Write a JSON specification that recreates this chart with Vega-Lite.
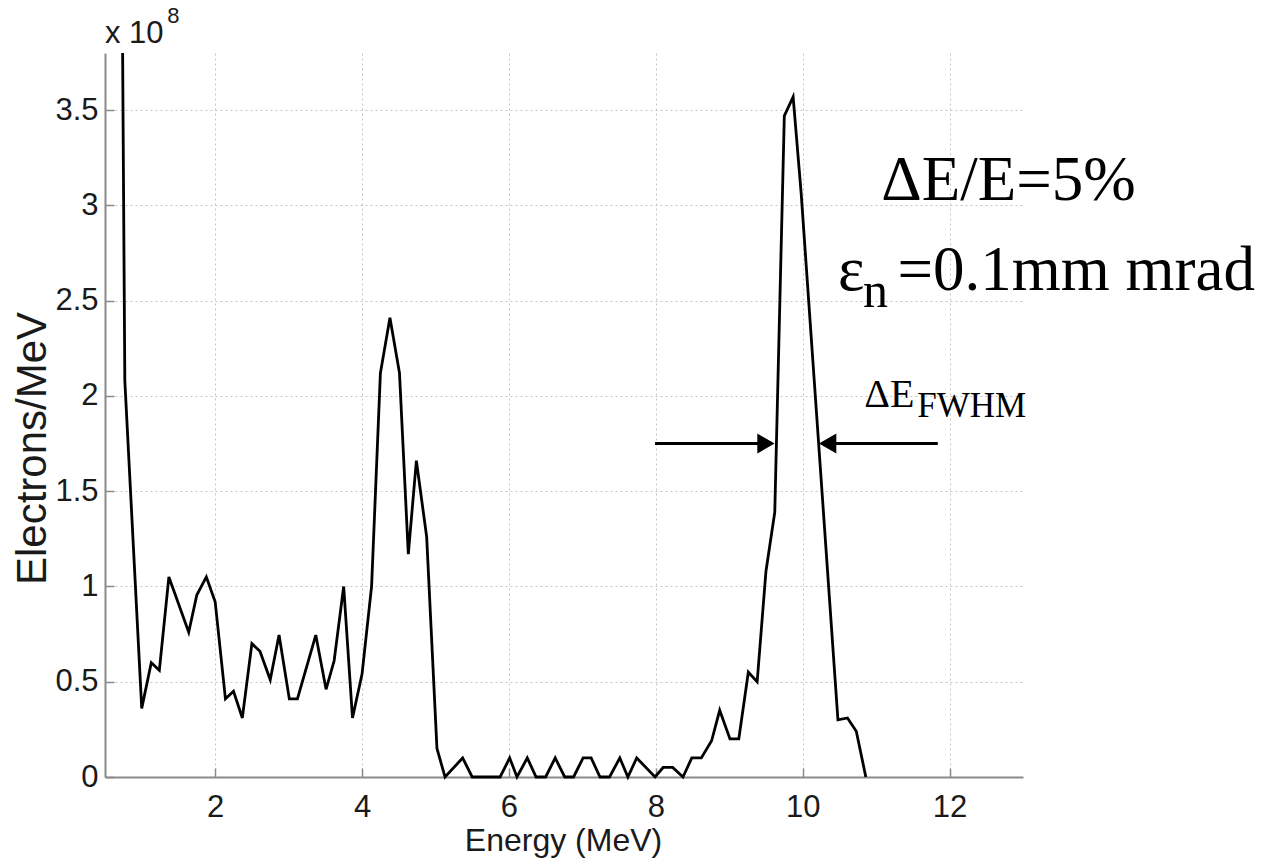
{
  "$schema": "https://vega.github.io/schema/vega-lite/v6.json",
  "width": 918,
  "height": 724,
  "autosize": {"type": "none"},
  "padding": {"left": 105, "top": 53, "right": 246, "bottom": 82},
  "background": "white",
  "config": {"view": {"stroke": null}, "font": "Liberation Sans"},
  "datasets": {
    "spectrum": [
      {"E": 0.74, "V": 3.8}, {"E": 0.77, "V": 2.08}, {"E": 1.0, "V": 0.36}, {"E": 1.13, "V": 0.6},
      {"E": 1.24, "V": 0.56}, {"E": 1.37, "V": 1.05}, {"E": 1.64, "V": 0.76}, {"E": 1.75, "V": 0.955},
      {"E": 1.88, "V": 1.05}, {"E": 2.0, "V": 0.92}, {"E": 2.14, "V": 0.41}, {"E": 2.25, "V": 0.45},
      {"E": 2.37, "V": 0.31}, {"E": 2.5, "V": 0.7}, {"E": 2.61, "V": 0.66}, {"E": 2.75, "V": 0.51},
      {"E": 2.87, "V": 0.745}, {"E": 3.01, "V": 0.41}, {"E": 3.12, "V": 0.41}, {"E": 3.37, "V": 0.745},
      {"E": 3.51, "V": 0.46}, {"E": 3.62, "V": 0.61}, {"E": 3.75, "V": 1.0}, {"E": 3.87, "V": 0.31},
      {"E": 4.0, "V": 0.54}, {"E": 4.13, "V": 1.0}, {"E": 4.25, "V": 2.12}, {"E": 4.38, "V": 2.41},
      {"E": 4.51, "V": 2.12}, {"E": 4.63, "V": 1.17}, {"E": 4.74, "V": 1.66}, {"E": 4.88, "V": 1.26},
      {"E": 5.02, "V": 0.15}, {"E": 5.13, "V": 0}, {"E": 5.37, "V": 0.1}, {"E": 5.5, "V": 0},
      {"E": 5.88, "V": 0}, {"E": 6.01, "V": 0.1}, {"E": 6.11, "V": 0}, {"E": 6.25, "V": 0.1},
      {"E": 6.37, "V": 0}, {"E": 6.5, "V": 0}, {"E": 6.63, "V": 0.1}, {"E": 6.76, "V": 0},
      {"E": 6.88, "V": 0}, {"E": 7.01, "V": 0.1}, {"E": 7.12, "V": 0.1}, {"E": 7.24, "V": 0},
      {"E": 7.37, "V": 0}, {"E": 7.51, "V": 0.1}, {"E": 7.62, "V": 0}, {"E": 7.74, "V": 0.1},
      {"E": 7.99, "V": 0}, {"E": 8.1, "V": 0.05}, {"E": 8.23, "V": 0.05}, {"E": 8.37, "V": 0},
      {"E": 8.49, "V": 0.1}, {"E": 8.62, "V": 0.1}, {"E": 8.76, "V": 0.19}, {"E": 8.87, "V": 0.35},
      {"E": 9.01, "V": 0.2}, {"E": 9.13, "V": 0.2}, {"E": 9.26, "V": 0.55}, {"E": 9.38, "V": 0.5},
      {"E": 9.5, "V": 1.08}, {"E": 9.62, "V": 1.39}, {"E": 9.75, "V": 3.47}, {"E": 9.87, "V": 3.57},
      {"E": 9.98, "V": 3.06}, {"E": 10.48, "V": 0.3}, {"E": 10.61, "V": 0.31}, {"E": 10.73, "V": 0.24},
      {"E": 10.86, "V": 0}
    ],
    "bigText": [
      {"E": 11.07, "V": 3.03, "label": "ΔE/E=5%"},
      {"E": 10.48, "V": 2.555, "label": "ε"},
      {"E": 11.29, "V": 2.555, "label": "=0.1mm mrad"}
    ],
    "subN": [{"E": 10.82, "V": 2.466, "label": "n"}],
    "dE": [{"E": 10.84, "V": 1.94, "label": "ΔE"}],
    "fwhm": [{"E": 11.56, "V": 1.89, "label": "FWHM"}],
    "sci": [{"E": 0.5, "V": 3.85, "label": "x 10"}],
    "sciExp": [{"E": 1.347, "V": 3.956, "label": "8"}],
    "arrows": [{"E": 7.99, "E2": 9.5, "V": 1.75}, {"E": 10.34, "E2": 11.84, "V": 1.75}],
    "headR": [{"E": 9.5, "V": 1.75}],
    "headL": [{"E": 10.34, "V": 1.75}]
  },
  "layer": [
    {
      "data": {"name": "spectrum"},
      "mark": {"type": "line", "color": "black", "strokeWidth": 2.8},
      "encoding": {
        "x": {
          "field": "E", "type": "quantitative",
          "scale": {"domain": [0.5, 13], "nice": false, "zero": false},
          "axis": {
            "title": "Energy (MeV)", "values": [2, 4, 6, 8, 10, 12], "format": "d",
            "grid": true, "gridDash": [2, 3], "gridColor": "#c4c4c4", "gridWidth": 1,
            "domainColor": "#8a8a8a", "domainWidth": 2, "tickColor": "#8a8a8a", "tickSize": -9, "tickWidth": 1.5,
            "labelFont": "Liberation Sans", "labelFontSize": 31, "labelColor": "#1a1a1a", "labelPadding": 24,
            "titleFont": "Liberation Sans", "titleFontSize": 32, "titleFontWeight": "normal", "titleColor": "#1a1a1a",
            "titleX": 458, "titleY": 73, "titleBaseline": "alphabetic", "titleAlign": "center"
          }
        },
        "y": {
          "field": "V", "type": "quantitative",
          "scale": {"domain": [0, 3.8], "nice": false, "zero": false},
          "axis": {
            "title": "Electrons/MeV", "values": [0, 0.5, 1, 1.5, 2, 2.5, 3, 3.5], "format": "~g",
            "grid": true, "gridDash": [2, 3], "gridColor": "#c4c4c4", "gridWidth": 1,
            "domainColor": "#8a8a8a", "domainWidth": 2, "tickColor": "#8a8a8a", "tickSize": -9, "tickWidth": 1.5,
            "labelFont": "Liberation Sans", "labelFontSize": 31, "labelColor": "#1a1a1a", "labelPadding": 16,
            "titleFont": "Liberation Sans", "titleFontSize": 42, "titleFontWeight": "normal", "titleColor": "#1a1a1a",
            "titleX": -60, "titleY": 395, "titleBaseline": "alphabetic", "titleAlign": "center", "titleAngle": 270
          }
        }
      }
    },
    {
      "data": {"name": "arrows"},
      "mark": {"type": "rule", "color": "black", "strokeWidth": 3},
      "encoding": {
        "x": {"field": "E", "type": "quantitative"},
        "x2": {"field": "E2"},
        "y": {"field": "V", "type": "quantitative"}
      }
    },
    {
      "data": {"name": "headR"},
      "mark": {"type": "point", "shape": "triangle-right", "filled": true, "color": "black", "opacity": 1, "size": 400},
      "encoding": {
        "x": {"field": "E", "type": "quantitative"},
        "y": {"field": "V", "type": "quantitative"}
      }
    },
    {
      "data": {"name": "headL"},
      "mark": {"type": "point", "shape": "triangle-left", "filled": true, "color": "black", "opacity": 1, "size": 400},
      "encoding": {
        "x": {"field": "E", "type": "quantitative"},
        "y": {"field": "V", "type": "quantitative"}
      }
    },
    {
      "data": {"name": "bigText"},
      "mark": {"type": "text", "font": "Liberation Serif", "fontSize": 63, "align": "left", "baseline": "alphabetic", "color": "black"},
      "encoding": {
        "x": {"field": "E", "type": "quantitative"},
        "y": {"field": "V", "type": "quantitative"},
        "text": {"field": "label"}
      }
    },
    {
      "data": {"name": "subN"},
      "mark": {"type": "text", "font": "Liberation Serif", "fontSize": 50, "align": "left", "baseline": "alphabetic", "color": "black"},
      "encoding": {
        "x": {"field": "E", "type": "quantitative"},
        "y": {"field": "V", "type": "quantitative"},
        "text": {"field": "label"}
      }
    },
    {
      "data": {"name": "dE"},
      "mark": {"type": "text", "font": "Liberation Serif", "fontSize": 40, "align": "left", "baseline": "alphabetic", "color": "black"},
      "encoding": {
        "x": {"field": "E", "type": "quantitative"},
        "y": {"field": "V", "type": "quantitative"},
        "text": {"field": "label"}
      }
    },
    {
      "data": {"name": "fwhm"},
      "mark": {"type": "text", "font": "Liberation Serif", "fontSize": 35, "align": "left", "baseline": "alphabetic", "color": "black"},
      "encoding": {
        "x": {"field": "E", "type": "quantitative"},
        "y": {"field": "V", "type": "quantitative"},
        "text": {"field": "label"}
      }
    },
    {
      "data": {"name": "sci"},
      "mark": {"type": "text", "font": "Liberation Sans", "fontSize": 31, "align": "left", "baseline": "alphabetic", "color": "#1a1a1a"},
      "encoding": {
        "x": {"field": "E", "type": "quantitative"},
        "y": {"field": "V", "type": "quantitative"},
        "text": {"field": "label"}
      }
    },
    {
      "data": {"name": "sciExp"},
      "mark": {"type": "text", "font": "Liberation Sans", "fontSize": 22, "align": "left", "baseline": "alphabetic", "color": "#1a1a1a"},
      "encoding": {
        "x": {"field": "E", "type": "quantitative"},
        "y": {"field": "V", "type": "quantitative"},
        "text": {"field": "label"}
      }
    }
  ]
}
